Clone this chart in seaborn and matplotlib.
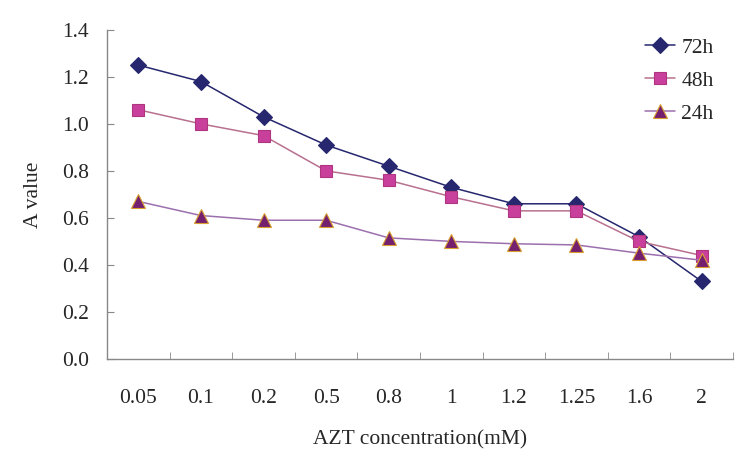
import seaborn as sns
import matplotlib.pyplot as plt
import pandas as pd
from matplotlib.ticker import FixedLocator, FormatStrFormatter

# AZT concentration (mM) categories
conc = ['0.05', '0.1', '0.2', '0.5', '0.8', '1', '1.2', '1.25', '1.6', '2']

# A values
a_72h = [1.25, 1.18, 1.03, 0.91, 0.82, 0.73, 0.66, 0.66, 0.52, 0.33]
a_48h = [1.06, 1.00, 0.95, 0.80, 0.76, 0.69, 0.63, 0.63, 0.50, 0.44]
a_24h = [0.67, 0.61, 0.59, 0.59, 0.515, 0.50, 0.49, 0.485, 0.45, 0.42]

series = ['72h', '48h', '24h']
values = [a_72h, a_48h, a_24h]

sns.set_style('white')
plt.rcParams['font.family'] = ['Liberation Serif', 'DejaVu Serif']

fig = plt.figure(figsize=(7.54, 4.59), dpi=100)
ax = fig.add_axes([0.142, 0.218, 0.830, 0.717])

# line colour, marker face, marker edge, marker, size
styles = {
    '72h': ('#26276e', '#26276e', '#26276e', 'D', 8),
    '48h': ('#b8708e', '#c9409c', '#b0357f', 's', 8),
    '24h': ('#9c6fae', '#74206f', '#d9a030', '^', 9.5),
}

for name, vals in zip(series, values):
    df = pd.DataFrame({'conc': conc, 'A': vals})
    lc, fc, ec, mk, ms = styles[name]
    sns.pointplot(data=df, x='conc', y='A', order=conc, color=lc, marker=mk,
                  markersize=ms, linewidth=1.1, errorbar=None, ax=ax,
                  markerfacecolor=fc, markeredgecolor=ec, markeredgewidth=0.8)

handles = ax.lines[:3]
ax.legend(handles, series, loc='upper right', bbox_to_anchor=(1.0, 1.035),
          frameon=False, fontsize=15.5, handlelength=1.4, handletextpad=0.3,
          labelspacing=0.6)

ax.set_xlim(-0.5, len(conc) - 0.5)
ax.set_ylim(0, 1.4)
ax.set_yticks([0, 0.2, 0.4, 0.6, 0.8, 1.0, 1.2, 1.4])
ax.yaxis.set_major_formatter(FormatStrFormatter('%.1f'))

ax.xaxis.set_minor_locator(FixedLocator([i - 0.5 for i in range(len(conc) + 1)]))
ax.tick_params(axis='x', which='major', length=0, pad=22, labelsize=15.5)
ax.tick_params(axis='x', which='minor', direction='in', length=5, color='#888888', bottom=True)
ax.tick_params(axis='y', direction='in', length=5, color='#888888', pad=13,
               labelsize=15.5, left=True)

for side in ['top', 'right']:
    ax.spines[side].set_visible(False)
for side in ['left', 'bottom']:
    ax.spines[side].set_color('#888888')
    ax.spines[side].set_linewidth(1.0)

ax.set_xlabel('AZT concentration(mM)', fontsize=15.5, labelpad=16)
ax.set_ylabel('A value', fontsize=15.5, labelpad=14)

fig.savefig('out.png', dpi=100)
